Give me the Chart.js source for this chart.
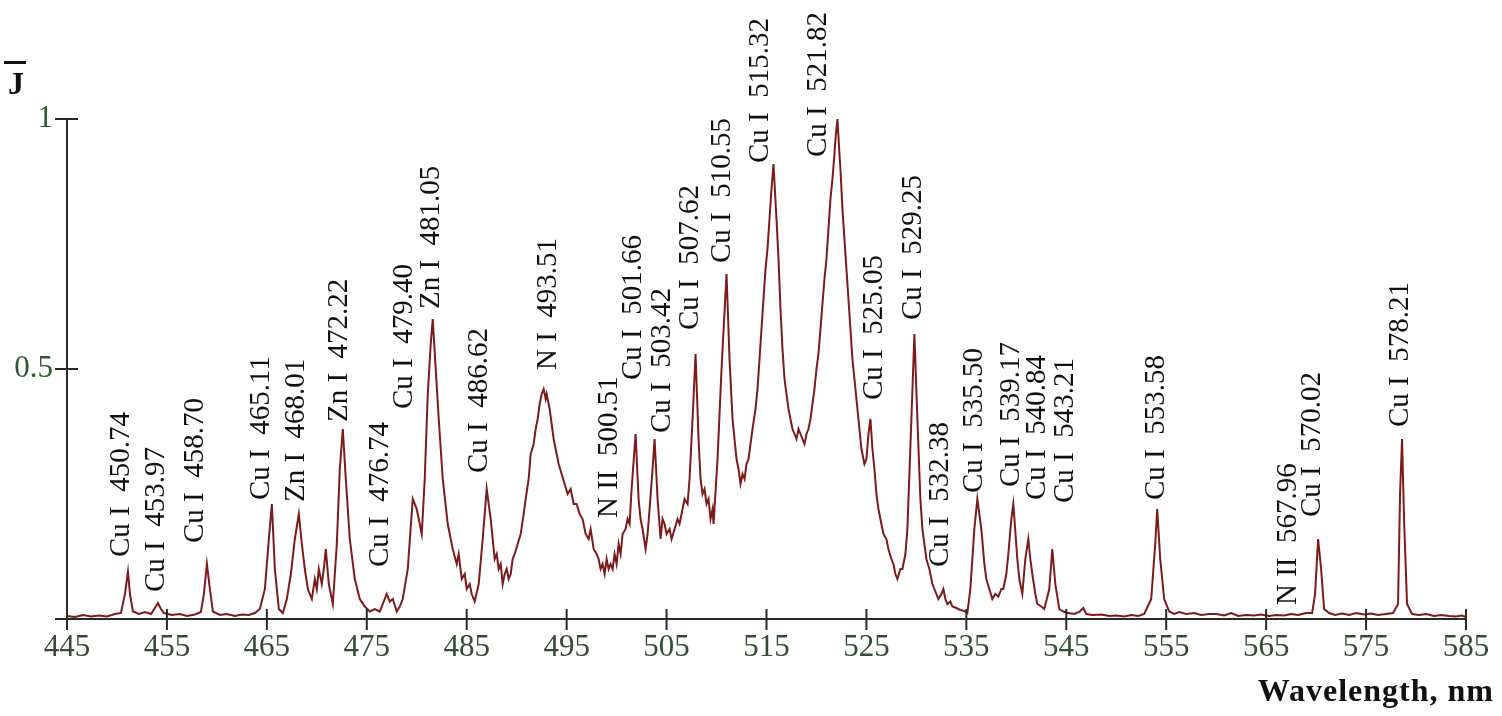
<!DOCTYPE html>
<html>
<head>
<meta charset="utf-8">
<title>Spectrum</title>
<script src="https://cdn.jsdelivr.net/npm/chart.js@4.4.1/dist/chart.umd.min.js"></script>
<style>
  html, body { margin: 0; padding: 0; background: #fff; }
  .wrap { position: relative; width: 1502px; height: 716px; }
</style>
</head>
<body>
<div class="wrap"><canvas id="spectrum"></canvas></div>
<script>
// wavelength, nm (rows match the rows of intensity below)
const wavelengths = [
  445.0, 445.8, 446.6, 447.4, 448.2, 449.0, 449.8, 450.4, 450.8, 451.1, 451.3, 451.6,
  452.2, 452.8, 453.4, 453.8, 454.1, 454.4, 454.7, 455.5, 456.3, 457.0, 457.8, 458.4,
  458.7, 459.0, 459.3, 459.6, 460.3, 461.0, 461.8, 462.5, 463.2, 463.8, 464.3, 464.8,
  465.2, 465.5, 465.8, 466.2, 466.6, 467.0, 467.4, 467.8, 468.2, 468.5, 468.8, 469.1,
  469.5, 469.8, 470.0, 470.2, 470.5, 470.7, 470.9, 471.2, 471.6, 472.0, 472.3, 472.6,
  472.9, 473.3, 473.8, 474.3, 474.8, 475.3, 475.8, 476.3, 476.7, 477.0, 477.3, 477.6,
  478.0, 478.3, 478.6, 479.1, 479.6, 480.0, 480.3, 480.5, 480.8, 481.1, 481.4, 481.6,
  481.9, 482.2, 482.6, 483.1, 483.4, 483.6, 484.0, 484.2, 484.5, 484.8, 485.0, 485.3,
  485.5, 485.8, 486.2, 486.6, 487.0, 487.4, 487.8, 488.0, 488.2, 488.4, 488.6, 488.8,
  489.0, 489.2, 489.4, 489.6, 489.8, 490.1, 490.4, 490.7, 490.9, 491.2, 491.4, 491.7,
  491.9, 492.1, 492.3, 492.5, 492.7, 492.9, 493.0, 493.2, 493.3, 493.5, 493.7, 494.0,
  494.2, 494.5, 494.8, 495.1, 495.4, 495.7, 496.0, 496.3, 496.6, 496.9, 497.2, 497.4,
  497.7, 498.0, 498.2, 498.4, 498.6, 498.8, 499.0, 499.2, 499.4, 499.6, 499.8, 500.0,
  500.2, 500.4, 500.6, 500.9, 501.1, 501.3, 501.5, 501.9, 502.2, 502.4, 502.6, 502.9,
  503.1, 503.3, 503.6, 503.8, 504.1, 504.4, 504.6, 504.8, 505.0, 505.3, 505.5, 505.8,
  506.1, 506.3, 506.6, 506.8, 507.1, 507.3, 507.6, 507.9, 508.2, 508.4, 508.6, 508.8,
  509.0, 509.2, 509.4, 509.6, 509.7, 510.1, 510.5, 511.0, 511.3, 511.6, 511.8, 512.0,
  512.2, 512.4, 512.6, 512.8, 513.0, 513.2, 513.4, 513.6, 513.9, 514.1, 514.5, 514.9,
  515.1, 515.3, 515.5, 515.7, 516.0, 516.2, 516.4, 516.6, 516.8, 517.0, 517.2, 517.4,
  517.6, 517.8, 518.0, 518.2, 518.4, 518.6, 518.8, 519.0, 519.2, 519.4, 519.6, 519.8,
  520.0, 520.2, 520.4, 520.6, 520.8, 521.0, 521.2, 521.4, 521.6, 521.8, 521.9, 522.1,
  522.3, 522.4, 522.6, 522.8, 523.0, 523.2, 523.4, 523.6, 523.8, 524.0, 524.3, 524.5,
  524.8, 525.0, 525.2, 525.4, 525.6, 525.8, 526.0, 526.2, 526.5, 526.7, 527.0, 527.2,
  527.5, 527.7, 527.9, 528.1, 528.4, 528.6, 528.9, 529.1, 529.5, 529.8, 530.1, 530.4,
  530.6, 530.8, 531.0, 531.3, 531.6, 531.8, 532.0, 532.2, 532.5, 532.7, 532.9, 533.1,
  533.4, 533.6, 534.0, 534.4, 534.8, 535.1, 535.4, 535.8, 536.1, 536.5, 536.8, 537.0,
  537.3, 537.6, 537.9, 538.2, 538.5, 538.7, 539.0, 539.2, 539.5, 539.7, 540.1, 540.3,
  540.6, 540.9, 541.2, 541.4, 541.6, 541.9, 542.1, 542.5, 542.8, 543.3, 543.6, 543.9,
  544.3, 544.7, 545.2, 545.8, 546.3, 546.7, 547.0, 547.6, 548.5, 549.3, 550.0, 550.8,
  551.5, 552.2, 552.8, 553.5, 553.9, 554.1, 554.4, 554.8, 555.3, 555.8, 556.3, 557.0,
  557.8, 558.5, 559.3, 560.0, 560.8, 561.5, 562.2, 563.0, 563.8, 564.5, 565.3, 566.0,
  566.8, 567.5, 568.2, 569.0, 569.6, 569.9, 570.2, 570.5, 570.8, 571.3, 571.9, 572.6,
  573.3, 574.0, 574.8, 575.5, 576.2, 577.0, 577.7, 578.2, 578.4, 578.6, 578.8, 579.1,
  579.6, 580.3, 581.0, 581.8, 582.5, 583.3, 584.0, 584.6, 585.0
];

// relative intensity J
const intensity = [
  0.006, 0.004, 0.008, 0.005, 0.007, 0.005, 0.010, 0.012, 0.050, 0.095, 0.050, 0.015,
  0.010, 0.014, 0.010, 0.022, 0.032, 0.020, 0.012, 0.008, 0.010, 0.006, 0.009, 0.014,
  0.050, 0.110, 0.060, 0.015, 0.008, 0.010, 0.006, 0.009, 0.008, 0.012, 0.020, 0.060,
  0.160, 0.230, 0.100, 0.020, 0.012, 0.040, 0.090, 0.160, 0.210, 0.150, 0.100, 0.060,
  0.040, 0.080, 0.060, 0.100, 0.070, 0.100, 0.140, 0.070, 0.030, 0.150, 0.300, 0.380,
  0.280, 0.160, 0.080, 0.040, 0.025, 0.015, 0.020, 0.015, 0.035, 0.050, 0.035, 0.040,
  0.015, 0.025, 0.040, 0.100, 0.240, 0.220, 0.190, 0.170, 0.280, 0.450, 0.550, 0.600,
  0.500, 0.400, 0.280, 0.190, 0.160, 0.140, 0.110, 0.130, 0.080, 0.090, 0.060, 0.070,
  0.050, 0.035, 0.070, 0.160, 0.260, 0.200, 0.120, 0.130, 0.100, 0.110, 0.070, 0.090,
  0.100, 0.080, 0.090, 0.120, 0.130, 0.150, 0.170, 0.210, 0.240, 0.280, 0.330, 0.350,
  0.380, 0.400, 0.430, 0.450, 0.460, 0.440, 0.450, 0.430, 0.420, 0.390, 0.360, 0.330,
  0.310, 0.290, 0.270, 0.250, 0.260, 0.230, 0.230, 0.210, 0.200, 0.170, 0.160, 0.180,
  0.140, 0.130, 0.120, 0.100, 0.110, 0.090, 0.120, 0.100, 0.110, 0.100, 0.130, 0.110,
  0.150, 0.130, 0.170, 0.180, 0.200, 0.190, 0.260, 0.370, 0.240, 0.200, 0.180, 0.140,
  0.170, 0.220, 0.300, 0.360, 0.240, 0.160, 0.200, 0.190, 0.170, 0.180, 0.160, 0.180,
  0.200, 0.190, 0.220, 0.240, 0.230, 0.280, 0.400, 0.530, 0.360, 0.280, 0.250, 0.260,
  0.230, 0.240, 0.200, 0.220, 0.190, 0.320, 0.500, 0.690, 0.520, 0.400, 0.360, 0.320,
  0.300, 0.270, 0.290, 0.280, 0.310, 0.320, 0.350, 0.380, 0.420, 0.460, 0.580, 0.700,
  0.740, 0.800, 0.860, 0.910, 0.800, 0.720, 0.620, 0.540, 0.480, 0.450, 0.420, 0.400,
  0.380, 0.370, 0.360, 0.380, 0.370, 0.360, 0.350, 0.370, 0.380, 0.400, 0.430, 0.460,
  0.500, 0.530, 0.580, 0.630, 0.680, 0.720, 0.780, 0.840, 0.880, 0.930, 0.960, 1.000,
  0.930, 0.900, 0.820, 0.760, 0.700, 0.640, 0.580, 0.520, 0.480, 0.440, 0.380, 0.340,
  0.310, 0.320, 0.370, 0.400, 0.340, 0.300, 0.250, 0.220, 0.190, 0.170, 0.160, 0.140,
  0.120, 0.110, 0.090, 0.080, 0.100, 0.100, 0.130, 0.180, 0.400, 0.570, 0.400, 0.240,
  0.180, 0.150, 0.120, 0.100, 0.070, 0.060, 0.050, 0.040, 0.050, 0.060, 0.040, 0.030,
  0.035, 0.025, 0.022, 0.018, 0.016, 0.012, 0.060, 0.180, 0.240, 0.180, 0.110, 0.080,
  0.060, 0.040, 0.050, 0.045, 0.060, 0.060, 0.090, 0.130, 0.200, 0.230, 0.120, 0.080,
  0.050, 0.120, 0.160, 0.120, 0.090, 0.050, 0.030, 0.025, 0.020, 0.060, 0.140, 0.070,
  0.020, 0.015, 0.012, 0.010, 0.014, 0.022, 0.010, 0.008, 0.009, 0.006, 0.007, 0.005,
  0.008, 0.006, 0.010, 0.040, 0.150, 0.220, 0.120, 0.040, 0.015, 0.010, 0.014, 0.010,
  0.012, 0.008, 0.010, 0.010, 0.007, 0.012, 0.006, 0.008, 0.007, 0.009, 0.006, 0.008,
  0.007, 0.010, 0.008, 0.012, 0.012, 0.050, 0.160, 0.100, 0.020, 0.012, 0.008, 0.011,
  0.008, 0.012, 0.009, 0.011, 0.008, 0.010, 0.012, 0.030, 0.250, 0.360, 0.200, 0.030,
  0.010, 0.008, 0.010, 0.006, 0.008, 0.006, 0.005, 0.007, 0.004
];

const xTickValues = [445, 455, 465, 475, 485, 495, 505, 515, 525, 535, 545, 555, 565, 575, 585];
const yTickValues = [0.5, 1];

// line identifications, where each label stands (nm) and where its foot sits (J)
const lineLabels = [
  'Cu I  450.74', 'Cu I  453.97', 'Cu I  458.70', 'Cu I  465.11', 'Zn I  468.01', 'Zn I  472.22', 'Cu I  476.74',
  'Cu I  479.40', 'Zn I  481.05', 'Cu I  486.62', 'N I  493.51', 'N II  500.51', 'Cu I  501.66', 'Cu I  503.42',
  'Cu I  507.62', 'Cu I  510.55', 'Cu I  515.32', 'Cu I  521.82', 'Cu I  525.05', 'Cu I  529.25', 'Cu I  532.38',
  'Cu I  535.50', 'Cu I  539.17', 'Cu I  540.84', 'Cu I  543.21', 'Cu I  553.58', 'N II  567.96', 'Cu I  570.02',
  'Cu I  578.21'
];
const labelAt = [
  450.4, 453.9, 457.8, 464.5, 468.0, 472.3, 476.4, 478.8, 481.5, 486.3, 493.2, 499.3, 501.7, 504.6,
  507.4, 510.6, 514.4, 520.2, 525.8, 529.7, 532.4, 535.8, 539.5, 542.1, 544.9, 554.0, 567.2, 569.6,
  578.4
];
const labelFoot = [
  0.124, 0.054, 0.152, 0.238, 0.234, 0.394, 0.104, 0.42, 0.62, 0.292, 0.498, 0.202, 0.478, 0.372,
  0.578, 0.712, 0.912, 0.924, 0.438, 0.598, 0.104, 0.252, 0.264, 0.238, 0.232, 0.238, 0.028, 0.204,
  0.384
];

const serif = '"Liberation Serif", "Times New Roman", serif';

const overlay = {
  id: 'overlay',
  afterDraw(chart) {
    const { ctx } = chart;
    const x = chart.scales.x;
    const y = chart.scales.y;
    ctx.save();

    // tick marks cross the axes
    ctx.strokeStyle = '#2a2a2a';
    ctx.lineWidth = 2;
    ctx.beginPath();
    xTickValues.forEach(v => {
      const px = x.getPixelForValue(v);
      ctx.moveTo(px, y.bottom - 10);
      ctx.lineTo(px, y.bottom + 11);
    });
    [0].concat(yTickValues).forEach(v => {
      const py = y.getPixelForValue(v);
      ctx.moveTo(x.left - 12, py);
      ctx.lineTo(x.left + 11, py);
    });
    ctx.stroke();

    // line identifications
    ctx.fillStyle = '#111';
    ctx.font = '29px ' + serif;
    ctx.textAlign = 'left';
    ctx.textBaseline = 'middle';
    lineLabels.forEach((t, i) => {
      ctx.save();
      ctx.translate(x.getPixelForValue(labelAt[i]), y.getPixelForValue(labelFoot[i]));
      ctx.rotate(-Math.PI / 2);
      ctx.fillText(t, 0, 0);
      ctx.restore();
    });

    // axis names
    ctx.font = 'bold 32px ' + serif;
    ctx.textBaseline = 'alphabetic';
    ctx.textAlign = 'right';
    ctx.letterSpacing = '1px';
    ctx.fillText('Wavelength, nm', 1494, 701);
    ctx.letterSpacing = '0px';
    ctx.textAlign = 'left';
    ctx.fillText('J', 8, 94);
    ctx.fillRect(4, 61, 22, 3);

    ctx.restore();
  }
};

const ctx = document.getElementById('spectrum');

new Chart(ctx, {
  type: 'line',
  data: {
    datasets: [{
      label: 'J',
      data: wavelengths.map((w, i) => ({ x: w, y: intensity[i] })),
      borderColor: '#7d1b1b',
      borderWidth: 2,
      pointRadius: 0,
      tension: 0,
      clip: false
    }]
  },
  options: {
    responsive: true,
    maintainAspectRatio: false,
    animation: false,
    layout: {
      padding: { top: 119, right: 36, left: 0, bottom: 0 }
    },
    scales: {
      x: {
        type: 'linear',
        min: 445,
        max: 585,
        afterBuildTicks: scale => { scale.ticks = xTickValues.map(v => ({ value: v })); },
        afterFit: scale => { scale.height = 97; },
        grid: { display: false, drawTicks: false },
        border: { display: true, color: '#2a2a2a', width: 2 },
        ticks: {
          color: '#2f4f30',
          padding: 10,
          maxRotation: 0,
          autoSkip: false,
          font: { family: serif, size: 31 }
        }
      },
      y: {
        min: 0,
        max: 1,
        afterBuildTicks: scale => { scale.ticks = yTickValues.map(v => ({ value: v })); },
        afterFit: scale => { scale.width = 67; },
        grid: { display: false, drawTicks: false },
        border: { display: true, color: '#2a2a2a', width: 2 },
        ticks: {
          color: '#2f5a30',
          padding: 14,
          font: { family: serif, size: 31 },
          callback: value => String(value)
        }
      }
    },
    plugins: {
      legend: { display: false },
      tooltip: { enabled: false }
    }
  },
  plugins: [overlay]
});
</script>
</body>
</html>
